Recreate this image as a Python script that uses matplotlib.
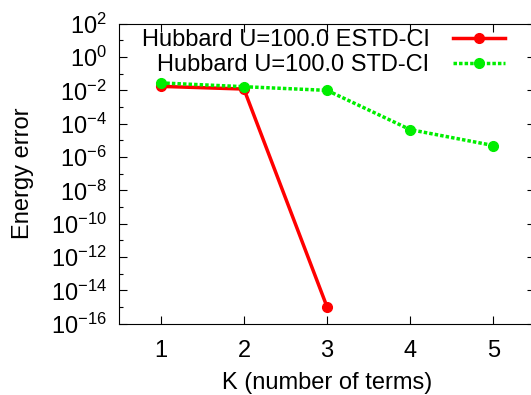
import numpy as np
import matplotlib
matplotlib.use("Agg")
import matplotlib.pyplot as plt
from matplotlib.ticker import FixedLocator, NullFormatter

plt.rcParams['font.family'] = ['Liberation Sans', 'DejaVu Sans']
plt.rcParams['mathtext.default'] = 'regular'

k_terms = [1, 2, 3, 4, 5]
estd_k = [1, 2, 3]
estd_err = [0.0174, 0.012, 1.0e-15]
std_err = [0.028, 0.0166, 0.0100, 4.4e-5, 4.9e-6]

y_exps = list(range(2, -17, -2))
y_labels = [r'$10^{%s}$' % e for e in y_exps]

fig = plt.figure(figsize=(5.31, 3.95), dpi=100)
ax = fig.add_axes([0.2245, 0.1805, 0.783, 0.7595])

ax.plot(estd_k, estd_err, color='#ff0000', lw=2.5, marker='o', ms=7,
        label='Hubbard U=100.0 ESTD-CI')
ax.plot(k_terms, std_err, color='#00ee00', lw=2.5, ls=(0, (1, 0.6)), marker='o', ms=7,
        label='Hubbard U=100.0 STD-CI')

ax.set_yscale('log')
ax.set_xlim(0.5, 5.5)
ax.set_ylim(1e-16, 1e2)
ax.set_xticks(k_terms)
ax.yaxis.set_major_locator(FixedLocator([10.0 ** e for e in y_exps]))
ax.set_yticklabels(y_labels)
ax.yaxis.set_minor_locator(FixedLocator([10.0 ** e for e in range(1, -16, -2)]))
ax.yaxis.set_minor_formatter(NullFormatter())
ax.tick_params(which='both', direction='in', top=True, right=True, labelsize=17, width=0.8)
ax.tick_params(which='major', length=6)
ax.tick_params(which='minor', length=3)
ax.tick_params(axis='x', pad=12)
ax.tick_params(axis='y', pad=9)

ax.set_xlabel('K (number of terms)', fontsize=17, labelpad=7)
ax.set_ylabel('Energy error', fontsize=17, labelpad=12)

ax.legend(loc='upper right', bbox_to_anchor=(0.962, 1.03), frameon=False, markerfirst=False,
          fontsize=17, handlelength=2.2, handletextpad=1.0, labelspacing=0.15, borderaxespad=0.2)

fig.savefig('out.png', dpi=100)
